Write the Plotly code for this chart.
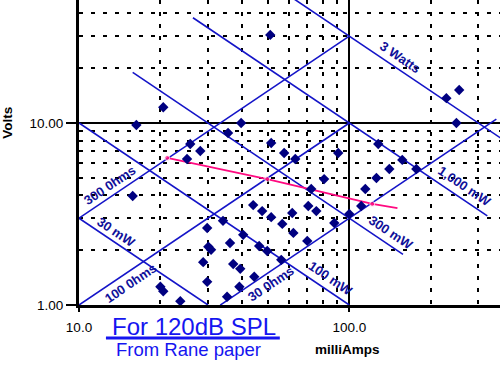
import math
import plotly.graph_objects as go

# ---- data ----
current_ma = [51, 20.5, 16.3, 25.8, 28.1, 25.1, 15.8, 39.8, 35.6, 51.4,
              57.4, 63.1, 91, 80.7, 72.3, 228.6, 255, 249, 128, 157,
              177, 140.6, 126, 114.6, 110.7, 100, 44.1, 34.1, 29.8, 40.5,
              46.4, 36.2, 30.1, 30.8, 28.8, 37.2, 39.5, 29.8, 44.5, 39.2,
              20, 20.5, 23.7, 35.3, 47.6, 51.4, 56.5, 61.5, 70.5, 75.5,
              62.1, 88, 69.9, 49.7, 56]
volts = [30.5, 12.2, 9.75, 7.67, 7.02, 6.34, 3.97, 10.0, 8.81, 7.77,
         6.84, 6.34, 6.84, 4.92, 4.34, 13.7, 15.2, 10.0, 7.67, 6.27,
         5.59, 5.59, 4.99, 4.34, 3.50, 3.16, 3.54, 2.90, 2.65, 2.43,
         2.11, 2.19, 2.09, 2.01, 1.72, 1.68, 1.58, 1.34, 1.43, 1.26,
         1.26, 1.19, 1.05, 1.11, 3.28, 3.04, 2.79, 3.20, 3.50, 3.28,
         2.49, 2.82, 2.25, 1.98, 1.77]

trend_current = [21.2, 49.7, 121.6, 150.7]
trend_volts = [6.43, 4.92, 3.59, 3.41]

power_mw = [30, 100, 300, 1000, 3000]
power_labels = ["30 mW", "100 mW", "300 mW", "1,000 mW", "3 Watts"]
power_i_start = [10, 10, 15.8, 26.4, 40]
power_i_end = [30, 100, 158, 324, 600]

res_ohms = [30, 100, 300]
res_labels = ["30 0hms", "100 0hms", "300 0hms"]
res_i_start = [33.3, 10, 10]
res_i_end = [350, 100, 100]

x_tickvals = [10, 100]
x_ticktext = ["10.0", "100.0"]
y_tickvals = [1, 10]
y_ticktext = ["1.00", "10.00"]
x_minor = [20, 30, 40, 50, 60, 70, 80, 90, 200, 300, 400]
y_minor = [2, 3, 4, 5, 6, 7, 8, 9, 20, 30, 40, 50]

LINE_BLUE = "#1414C8"
LABEL_BLUE = "#10109A"
CAPTION_BLUE = "#1515F0"
FONT = "Liberation Sans, Arial, sans-serif"

fig = go.Figure()

for p, i0, i1 in zip(power_mw, power_i_start, power_i_end):
    fig.add_trace(go.Scatter(x=[i0, i1], y=[p / i0, p / i1], mode="lines",
                             line=dict(color=LINE_BLUE, width=1.6),
                             hoverinfo="skip", showlegend=False))
for r, i0, i1 in zip(res_ohms, res_i_start, res_i_end):
    fig.add_trace(go.Scatter(x=[i0, i1], y=[r * i0 / 1000, r * i1 / 1000], mode="lines",
                             line=dict(color=LINE_BLUE, width=1.6),
                             hoverinfo="skip", showlegend=False))

fig.add_trace(go.Scatter(x=trend_current, y=trend_volts, mode="lines+markers",
                         line=dict(color="#FF0A80", width=1.8),
                         marker=dict(color="#FF0A80", size=[5, 5, 5, 0]),
                         showlegend=False))

fig.add_trace(go.Scatter(x=current_ma, y=volts, mode="markers",
                         marker=dict(symbol="diamond", color="#000080", size=8,
                                     line=dict(width=0)),
                         showlegend=False))

# line labels: a point on each line, then a perpendicular offset in px
ANG = math.degrees(math.atan(182.4 / 270.3))
SIN, COS = math.sin(math.radians(ANG)), math.cos(math.radians(ANG))
power_label_i = [13.2, 80.7, 135, 253, 146.8]
power_label_off = [9.5, 12.0, 11.0, 11.5, 10.5]
res_label_i = [48.9, 14.7, 13.6]
res_label_off = [-11.0, -10.5, 10.5]

for t, p, xi, d in zip(power_labels, power_mw, power_label_i, power_label_off):
    fig.add_annotation(x=math.log10(xi), y=math.log10(p / xi), xref="x", yref="y",
                       text="<b>%s</b>" % t, showarrow=False, textangle=ANG,
                       xanchor="center", yanchor="middle",
                       xshift=SIN * d, yshift=COS * d,
                       font=dict(family=FONT, size=13, color=LABEL_BLUE))
for t, r, xi, d in zip(res_labels, res_ohms, res_label_i, res_label_off):
    fig.add_annotation(x=math.log10(xi), y=math.log10(r * xi / 1000), xref="x", yref="y",
                       text="<b>%s</b>" % t, showarrow=False, textangle=-ANG,
                       xanchor="center", yanchor="middle",
                       xshift=-SIN * d, yshift=COS * d,
                       font=dict(family=FONT, size=13, color=LABEL_BLUE))

# titles / captions
fig.add_annotation(x=-0.169, y=0.597, xref="paper", yref="paper", text="<b>Volts</b>",
                   showarrow=False, textangle=-90, xanchor="center", yanchor="middle",
                   font=dict(family=FONT, size=13.5, color="black"))
fig.add_annotation(x=0.6366, y=-0.1475, xref="paper", yref="paper", text="<b>milliAmps</b>",
                   showarrow=False, xanchor="center", yanchor="middle",
                   font=dict(family=FONT, size=13.5, color="black"))
fig.add_annotation(x=0.273, y=-0.069, xref="paper", yref="paper", text="For 120dB SPL",
                   showarrow=False, xanchor="center", yanchor="middle",
                   font=dict(family=FONT, size=24, color=CAPTION_BLUE))
fig.add_annotation(x=0.261, y=-0.147, xref="paper", yref="paper", text="From Rane paper",
                   showarrow=False, xanchor="center", yanchor="middle",
                   font=dict(family=FONT, size=18.5, color=CAPTION_BLUE))
fig.add_shape(type="line", xref="paper", yref="paper", x0=0.064, x1=0.477,
              y0=-0.108, y1=-0.108, line=dict(color=CAPTION_BLUE, width=3))

fig.update_layout(
    width=500, height=365,
    margin=dict(l=79, r=0, t=0, b=60, autoexpand=False),
    paper_bgcolor="white", plot_bgcolor="white",
    showlegend=False,
    xaxis=dict(type="log", range=[1, 2.5575], tickvals=x_tickvals, ticktext=x_ticktext,
               automargin=False,
               showgrid=True, gridcolor="black", gridwidth=2,
               minor=dict(tickvals=x_minor, showgrid=True, gridcolor="black", gridwidth=2,
                          griddash="4px,8px", ticks=""),
               showline=True, linecolor="black", linewidth=3,
               ticks="outside", ticklen=4, tickwidth=2, tickcolor="black",
               ticklabelstandoff=4, zeroline=False,
               tickfont=dict(family=FONT, size=13.5, color="black")),
    yaxis=dict(type="log", range=[0, 1.676], tickvals=y_tickvals, ticktext=y_ticktext,
               automargin=False,
               showgrid=True, gridcolor="black", gridwidth=2,
               minor=dict(tickvals=y_minor, showgrid=True, gridcolor="black", gridwidth=2,
                          griddash="4px,8px", ticks=""),
               showline=True, linecolor="black", linewidth=3,
               ticks="outside", ticklen=10, tickwidth=2, tickcolor="black",
               zeroline=False,
               tickfont=dict(family=FONT, size=13.5, color="black")),
)

fig.write_html("out.html", config={"displayModeBar": False},
               post_script="document.body.style.margin='0';document.body.style.overflow='hidden';")
